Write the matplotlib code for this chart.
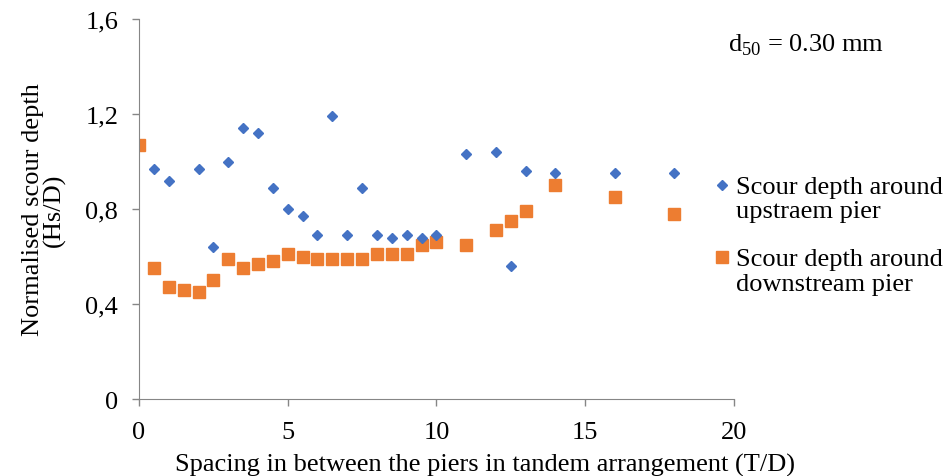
import numpy as np
import matplotlib.pyplot as plt
from matplotlib.legend_handler import HandlerLine2D

plt.rcParams["font.family"] = ["Liberation Serif", "DejaVu Serif"]
plt.rcParams["mathtext.fontset"] = "custom"
plt.rcParams["mathtext.rm"] = "Liberation Serif"

# upstream pier
x_up = [0.5, 1, 2, 2.5, 3, 3.5, 4, 4.5, 5, 5.5, 6, 6.5, 7, 7.5, 8, 8.5, 9, 9.5,
        10, 11, 12, 12.5, 13, 14, 16, 18]
y_up = [0.97, 0.92, 0.97, 0.64, 1.00, 1.14, 1.12, 0.89, 0.80, 0.77, 0.69, 1.19,
        0.69, 0.89, 0.69, 0.68, 0.69, 0.68, 0.69, 1.03, 1.04, 0.56, 0.96, 0.95,
        0.95, 0.95]

# downstream pier
x_down = [0, 0.5, 1, 1.5, 2, 2.5, 3, 3.5, 4, 4.5, 5, 5.5, 6, 6.5, 7, 7.5, 8,
          8.5, 9, 9.5, 10, 11, 12, 12.5, 13, 14, 16, 18]
y_down = [1.07, 0.55, 0.47, 0.46, 0.45, 0.50, 0.59, 0.55, 0.57, 0.58, 0.61,
          0.60, 0.59, 0.59, 0.59, 0.59, 0.61, 0.61, 0.61, 0.65, 0.66, 0.65,
          0.71, 0.75, 0.79, 0.90, 0.85, 0.78]

x_ticks = [0, 5, 10, 15, 20]
y_ticks = [0, 0.4, 0.8, 1.2, 1.6]
y_labels = ["0", "0,4", "0,8", "1,2", "1,6"]

fs = 19


class FirstLineHandler(HandlerLine2D):
    # put the legend marker beside the first line of a two-line label
    def create_artists(self, legend, orig_handle, xdescent, ydescent,
                       width, height, fontsize, trans):
        artists = super().create_artists(legend, orig_handle, xdescent,
                                         ydescent, width, height, fontsize,
                                         trans)
        for a in artists:
            a.set_ydata([y + 9.5 for y in a.get_ydata()])
        return artists


fig = plt.figure(figsize=(9.47, 4.77), dpi=100)
ax = fig.add_axes([0.1468, 0.1614, 0.6282, 0.7966])

ax.plot(x_down, y_down, linestyle="none", marker="s", markersize=8.5,
        color="#ED7D31", label="Scour depth around\ndownstream pier", zorder=2)
ax.plot(x_up, y_up, linestyle="none", marker="D", markersize=4.6,
        color="#4472C4", label="Scour depth around\nupstraem pier", zorder=3)

ax.set_xlim(0, 20)
ax.set_ylim(0, 1.6)
ax.set_xticks(x_ticks)
ax.set_yticks(y_ticks)
ax.set_yticklabels(y_labels)
ax.tick_params(labelsize=fs, color="#868686", length=5, width=1)
ax.tick_params(axis="x", pad=11)
ax.tick_params(axis="y", pad=10)

for s in ["top", "right"]:
    ax.spines[s].set_visible(False)
for s in ["left", "bottom"]:
    ax.spines[s].set_color("#868686")

ax.set_xlabel("Spacing in between the piers in tandem arrangement (T/D)",
              fontsize=fs)
ax.xaxis.set_label_coords(0.581, -0.143)
ax.set_ylabel("Normalised scour depth\n(Hs/D)", fontsize=fs, labelpad=14,
              linespacing=0.95)

ax.text(0.99, 0.934, r"d$_{\mathrm{50}}$ = 0.30 mm", transform=ax.transAxes,
        fontsize=fs, va="center", ha="left")

handles, labels = ax.get_legend_handles_labels()
leg = fig.legend(handles[::-1], labels[::-1], loc="center left",
                 bbox_to_anchor=(0.753, 0.505), frameon=False, fontsize=fs,
                 handletextpad=0.15, handlelength=0.7, labelspacing=1.0,
                 borderpad=0, borderaxespad=0,
                 handler_map={h: FirstLineHandler() for h in handles})
for t in leg.get_texts():
    t.set_linespacing(1.13)

fig.savefig("out.png", dpi=100)
